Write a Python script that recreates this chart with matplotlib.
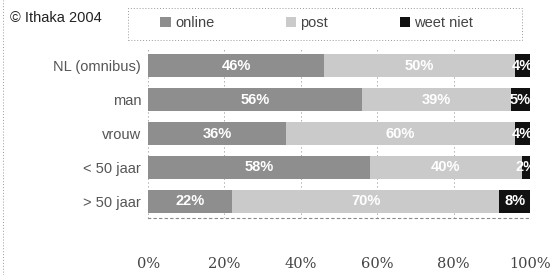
import matplotlib.pyplot as plt
import numpy as np
from matplotlib.patches import Rectangle

plt.rcParams['font.family'] = ['Liberation Sans', 'DejaVu Sans']

categories = ['NL (omnibus)', 'man', 'vrouw', '< 50 jaar', '> 50 jaar']
online = [46, 56, 36, 58, 22]
post = [50, 39, 60, 40, 70]
weet_niet = [4, 5, 4, 2, 8]
series_names = ['online', 'post', 'weet niet']
colors = ['#8e8e8e', '#cacaca', '#111111']

fig = plt.figure(figsize=(5.59, 2.75), dpi=100)
ax = fig.add_axes([0.265, 0.207, 0.683, 0.615])

y = np.arange(len(categories))
left = np.zeros(len(categories))
for vals, name, c in zip([online, post, weet_niet], series_names, colors):
    vals = np.array(vals)
    bars = ax.barh(y, vals, left=left, height=0.68, color=c, label=name)
    for b, v in zip(bars, vals):
        ax.text(b.get_x() + b.get_width() / 2, b.get_y() + b.get_height() / 2,
                '%d%%' % v, ha='center', va='center', color='white',
                fontsize=10.5, fontweight='bold', clip_on=True)
    left += vals

ax.set_xlim(0, 100)
ax.set_ylim(4.5, -0.5)
ax.set_yticks(y)
ax.set_yticklabels(categories, color='#555555', fontsize=10.5)
ax.set_xticks(np.arange(0, 101, 20))
ax.set_xticklabels(['%d%%' % v for v in range(0, 101, 20)], color='#444444',
                   fontsize=10.5, family='DejaVu Serif')
ax.tick_params(axis='x', length=0, pad=28)
ax.tick_params(axis='y', length=0, pad=5)
ax.grid(axis='x', linestyle=(0, (1, 3)), color='#888888', linewidth=0.7)
ax.set_axisbelow(True)
for s in ['top', 'right', 'left']:
    ax.spines[s].set_visible(False)
ax.spines['bottom'].set_linestyle((0, (2, 3)))
ax.spines['bottom'].set_color('#888888')
ax.spines['bottom'].set_linewidth(0.8)

fig.text(0.018, 0.935, '© Ithaka 2004', fontsize=10.5, color='#222222', va='center')

# legend box (dotted) and frameless legend inside it
fig.add_artist(Rectangle((0.229, 0.855), 0.705, 0.116, transform=fig.transFigure,
                         fill=False, edgecolor='#999999', linewidth=0.7,
                         linestyle=(0, (1, 2))))
leg = fig.legend(loc='center left', bbox_to_anchor=(0.287, 0.915), ncol=3,
                 frameon=False, fontsize=10.5, handlelength=0.7, handleheight=0.7,
                 handletextpad=0.3, columnspacing=4.9, borderpad=0, borderaxespad=0)
for t in leg.get_texts():
    t.set_color('#444444')

# dotted left border
fig.add_artist(plt.Line2D([0.006, 0.006], [0.0, 1.0], transform=fig.transFigure,
                          linestyle=(0, (1, 2)), color='#999999', linewidth=0.7))

fig.savefig('out.png', dpi=100)
